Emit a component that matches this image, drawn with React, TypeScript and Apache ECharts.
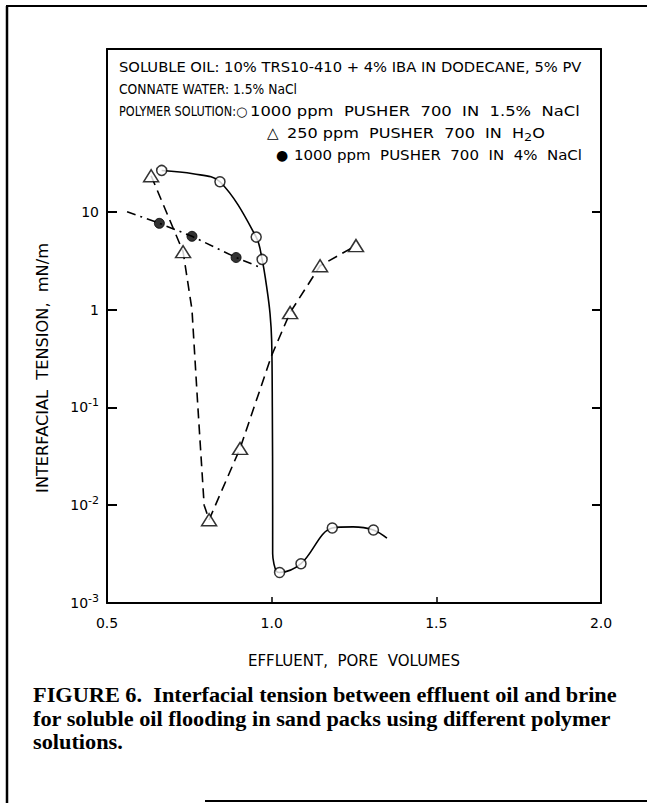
import React, { useEffect, useRef } from "react";
import * as echarts from "echarts";

const FONT = "DejaVu Sans";
const SERIF = "Liberation Serif";

// axis ticks
const xTicks = [0.5, 1.0, 1.5, 2.0];
const yTicks = [0.001, 0.01, 0.1, 1, 10];
const xMin = 0.5;
const xMax = 2.0;
const yMin = 0.001;
const yMax = 460;

// measured points: 1000 ppm PUSHER 700 in 1.5% NaCl (open circles)
const openCircleX = [0.666, 0.843, 0.953, 0.971, 1.024, 1.089, 1.184, 1.309];
const openCircleY = [26.4, 20.2, 5.5, 3.25, 0.00205, 0.00252, 0.00585, 0.00558];

// measured points: 250 ppm PUSHER 700 in H2O (open triangles)
const triangleX = [0.634, 0.731, 0.81, 0.904, 1.056, 1.147, 1.256];
const triangleY = [23.3, 3.9, 0.0071, 0.038, 0.93, 2.8, 4.5];

// measured points: 1000 ppm PUSHER 700 in 4% NaCl (filled circles)
const filledX = [0.659, 0.758, 0.892];
const filledY = [7.6, 5.6, 3.4];

// hand-drawn curves
const solidCurveX = [0.666, 0.761, 0.843, 0.953, 0.971, 0.986, 0.995, 1.0, 1.002, 1.003, 1.003, 1.007, 1.015, 1.024, 1.089, 1.184, 1.247, 1.309, 1.35];
const solidCurveY = [26.4, 24.4, 20.2, 5.5, 3.25, 1.6, 0.91, 0.48, 0.1, 0.01, 0.0032, 0.0025, 0.0021, 0.00205, 0.00252, 0.00585, 0.006, 0.00558, 0.0046];

const dashedCurveX = [0.634, 0.731, 0.758, 0.776, 0.795, 0.81, 0.904, 1.0, 1.056, 1.147, 1.256];
const dashedCurveY = [23.3, 3.9, 1.0, 0.1, 0.01, 0.0071, 0.038, 0.34, 0.93, 2.8, 4.5];

const dashDotCurveX = [0.561, 0.659, 0.758, 0.892, 0.965];
const dashDotCurveY = [10.0, 7.6, 5.6, 3.4, 2.7];

// texts
const noteSoluble = "SOLUBLE OIL: 10% TRS10-410 + 4% IBA IN DODECANE, 5% PV";
const noteConnate = "CONNATE WATER: 1.5% NaCl";
const notePolymer = "POLYMER SOLUTION:";
const noteOpen = "1000 ppm  PUSHER  700  IN  1.5%  NaCl";
const noteTriangle = "250 ppm  PUSHER  700  IN  H{sub|2}O";
const noteFilled = "1000 ppm  PUSHER  700  IN  4%  NaCl";
const symOpen = "\u25CB";
const symTriangle = "\u25B3";
const symFilled = "\u25CF";
const xAxisName = "EFFLUENT,  PORE  VOLUMES";
const yAxisName = "INTERFACIAL  TENSION,  mN/m";
const captionLines = [
  "FIGURE 6.  Interfacial tension between effluent oil and brine",
  "for soluble oil flooding in sand packs using different polymer",
  "solutions.",
];

const zip = (xs: number[], ys: number[]) => xs.map((x, i) => [x, ys[i]]);

function measure(text: string, size: number, family: string, weight = "normal"): number {
  const plain = text.replace(/\{[a-z]+\|([^}]*)\}/g, "$1");
  try {
    const ctx = document.createElement("canvas").getContext("2d");
    if (ctx) {
      ctx.font = `${weight} ${size}px "${family}"`;
      return ctx.measureText(plain).width;
    }
  } catch (e) {
    /* ignore */
  }
  return plain.length * size * 0.62;
}

function yLabel(v: number): string {
  const e = Math.round(Math.log10(v));
  if (e === 0) return "1";
  if (e === 1) return "10";
  return `10{sup|${e}}`;
}

function buildOption(): any {
  const black = "#000";
  const graphic: any[] = [];
  const NS = 13.8;
  const fitText = (text: string, x: number, y: number, w: number | null, size = NS) => {
    const sx = w ? w / measure(text, size, FONT) : 1;
    graphic.push({
      type: "text",
      x,
      y,
      scaleX: sx,
      style: {
        text,
        fill: black,
        fontFamily: FONT,
        fontSize: size,
        verticalAlign: "middle",
        align: "left",
        rich: {
          sub: { fontSize: 11, fontFamily: FONT, padding: [9, 0, 0, 0], fill: black },
        },
      },
    });
  };
  fitText(noteSoluble, 119, 67, 463);
  fitText(noteConnate, 119, 89, 178);
  fitText(notePolymer, 119, 111, 117);
  fitText(symOpen, 236, 111, null, 13);
  fitText(noteOpen, 250, 111, 330);
  fitText(symTriangle, 267, 133, null, 15);
  fitText(noteTriangle, 287, 133, 260);
  fitText(symFilled, 276, 155, null, 14);
  fitText(noteFilled, 294, 155, 288);

  // y axis title (rotated)
  const yNameSize = 15;
  graphic.push({
    type: "text",
    x: 43,
    y: 368,
    rotation: Math.PI / 2,
    scaleX: 250 / measure(yAxisName, yNameSize, FONT),
    style: {
      text: yAxisName,
      fill: black,
      fontFamily: FONT,
      fontSize: yNameSize,
      align: "center",
      verticalAlign: "middle",
    },
  });

  const capY = [695, 719, 742];
  const capSize = 21;
  const capScale = 584 / measure(captionLines[0], capSize, SERIF, "bold");
  captionLines.forEach((t, i) => {
    graphic.push({
      type: "text",
      x: 33,
      y: capY[i],
      scaleX: capScale,
      style: {
        text: t,
        fill: black,
        fontFamily: SERIF,
        fontWeight: "bold",
        fontSize: capSize,
        align: "left",
        verticalAlign: "middle",
      },
    });
  });
  // outer frame of the figure
  graphic.push({ type: "line", shape: { x1: 6, y1: 6, x2: 647, y2: 6 }, style: { stroke: black, lineWidth: 2 } });
  graphic.push({ type: "line", shape: { x1: 7, y1: 6, x2: 7, y2: 803 }, style: { stroke: black, lineWidth: 2.5 } });
  graphic.push({ type: "line", shape: { x1: 205, y1: 801, x2: 647, y2: 801 }, style: { stroke: black, lineWidth: 2 } });

  const axisLineStyle = { color: black, width: 2 };
  return {
    animation: false,
    backgroundColor: "#fff",
    grid: { left: 107, right: 46, top: 49, bottom: 200, containLabel: false },
    xAxis: [
      {
        type: "value",
        min: xMin,
        max: xMax,
        interval: 0.5,
        position: "bottom",
        axisLine: { show: true, onZero: false, lineStyle: axisLineStyle },
        axisTick: { show: true, inside: true, length: 6, lineStyle: { color: black, width: 1.5 } },
        axisLabel: {
          color: black,
          fontFamily: FONT,
          fontSize: 14,
          margin: 13,
          formatter: (v: number) => (xTicks.some((t) => Math.abs(t - v) < 1e-9) ? v.toFixed(1) : ""),
        },
        splitLine: { show: false },
        name: xAxisName,
        nameLocation: "middle",
        nameGap: 50,
        nameTextStyle: { color: black, fontFamily: FONT, fontSize: 15 },
      },
      {
        type: "value",
        min: xMin,
        max: xMax,
        position: "top",
        axisLine: { show: true, onZero: false, lineStyle: axisLineStyle },
        axisTick: { show: false },
        axisLabel: { show: false },
        splitLine: { show: false },
      },
    ],
    yAxis: [
      {
        type: "log",
        logBase: 10,
        min: yMin,
        max: yMax,
        position: "left",
        axisLine: { show: true, onZero: false, lineStyle: axisLineStyle },
        axisTick: { show: true, inside: true, length: 10, customValues: yTicks, lineStyle: { color: black, width: 2 } },
        minorTick: { show: false },
        axisLabel: {
          customValues: yTicks,
          color: black,
          fontFamily: FONT,
          fontSize: 14,
          margin: 8,
          formatter: yLabel,
          rich: {
            sup: { fontFamily: FONT, fontSize: 11, color: black, padding: [0, 0, 9, 0] },
          },
        },
        splitLine: { show: false },
      },
      {
        type: "log",
        logBase: 10,
        min: yMin,
        max: yMax,
        position: "right",
        axisLine: { show: true, onZero: false, lineStyle: axisLineStyle },
        axisTick: { show: true, inside: true, length: 9, customValues: yTicks, lineStyle: { color: black, width: 2 } },
        minorTick: { show: false },
        axisLabel: { show: false },
        splitLine: { show: false },
      },
    ],
    series: [
      {
        name: "curve 1.5% NaCl",
        type: "line",
        data: zip(solidCurveX, solidCurveY),
        smooth: 0.35,
        showSymbol: false,
        symbol: "none",
        lineStyle: { color: black, width: 1.6, type: "solid" },
        z: 2,
      },
      {
        name: "curve H2O",
        type: "line",
        data: zip(dashedCurveX, dashedCurveY),
        smooth: false,
        showSymbol: false,
        symbol: "none",
        lineStyle: { color: black, width: 1.6, type: [10, 6] },
        z: 2,
      },
      {
        name: "curve 4% NaCl",
        type: "line",
        data: zip(dashDotCurveX, dashDotCurveY),
        smooth: false,
        showSymbol: false,
        symbol: "none",
        lineStyle: { color: black, width: 1.6, type: [9, 5, 2, 5] },
        z: 2,
      },
      {
        name: "1000 ppm PUSHER 700 IN 1.5% NaCl",
        type: "scatter",
        data: zip(openCircleX, openCircleY),
        symbol: "circle",
        symbolSize: 10,
        itemStyle: { color: "#fff", borderColor: black, borderWidth: 1.5 },
        z: 5,
      },
      {
        name: "250 ppm PUSHER 700 IN H2O",
        type: "scatter",
        data: zip(triangleX, triangleY),
        symbol: "triangle",
        symbolSize: [15, 12],
        itemStyle: { color: "#fff", borderColor: black, borderWidth: 1.5 },
        z: 5,
      },
      {
        name: "1000 ppm PUSHER 700 IN 4% NaCl",
        type: "scatter",
        data: zip(filledX, filledY),
        symbol: "circle",
        symbolSize: 10,
        itemStyle: { color: black, borderColor: black, borderWidth: 1 },
        z: 5,
      },
    ],
    graphic,
  };
}

export default function App() {
  const ref = useRef<HTMLDivElement>(null);
  useEffect(() => {
    if (!ref.current) return;
    const chart = echarts.init(ref.current, null, { renderer: "svg" });
    chart.setOption(buildOption());
    return () => chart.dispose();
  }, []);
  return (
    <div
      ref={ref}
      style={{ position: "absolute", left: 0, top: 0, width: 647, height: 803, background: "#fff" }}
    />
  );
}
